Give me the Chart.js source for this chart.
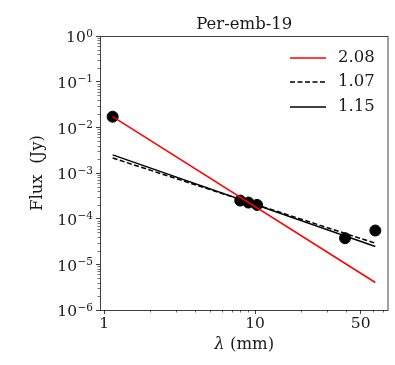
<!DOCTYPE html>
<html>
<head>
<meta charset="utf-8">
<script src="https://cdn.jsdelivr.net/npm/chart.js@4"></script>
<style>
  html, body { margin: 0; padding: 0; background: #fff; }
  #wrap { width: 395px; height: 365px; }
</style>
</head>
<body>
<div id="wrap"><canvas id="c" width="395" height="365"></canvas></div>
<script>
// observed points
const lambdaMm = [1.14, 7.97, 9.04, 10.3, 39.4, 62.5];
const fluxJy = [0.0171, 2.49e-4, 2.25e-4, 2.0e-4, 3.74e-5, 5.5e-5];

// fitted power laws (end points)
const fitLambda = [1.14, 62.5];
const fitRed = [0.0171, 4.0e-6];
const fitDashed = [2.13e-3, 2.9e-5];
const fitSolid = [2.49e-3, 2.45e-5];
const fitLabels = ['2.08', '1.07', '1.15'];

const xMajor = [1, 10, 50];
const xMinor = [2, 3, 4, 5, 6, 7, 8, 9, 20, 30, 40, 60, 70];
const yMajor = [1e-6, 1e-5, 1e-4, 1e-3, 1e-2, 1e-1, 1];
const yExp = ['−6', '−5', '−4', '−3', '−2', '−1', '0'];

const SERIF = '"DejaVu Serif", serif';
const TXT = '#1a1a1a';

function pts(xs, ys) {
  return xs.map((x, i) => ({ x: x, y: ys[i] }));
}

// frame, minor ticks, y labels, legend, title and x title
const extras = {
  id: 'extras',
  afterDraw(chart) {
    const ctx = chart.ctx;
    const a = chart.chartArea;
    const xs = chart.scales.x, ys = chart.scales.y;
    ctx.save();
    ctx.strokeStyle = 'rgba(0,0,0,0.75)';
    ctx.lineWidth = 1;
    ctx.strokeRect(a.left + 0.5, a.top + 0.5, a.right - a.left - 1, a.bottom - a.top);

    ctx.strokeStyle = 'rgba(0,0,0,0.55)';
    ctx.beginPath();
    xMinor.forEach(v => {
      const px = Math.round(xs.getPixelForValue(v)) + 0.5;
      ctx.moveTo(px, a.bottom);
      ctx.lineTo(px, a.bottom + 2.5);
    });
    for (let d = -6; d < 0; d++) {
      for (let m = 2; m <= 9; m++) {
        const py = Math.round(ys.getPixelForValue(m * Math.pow(10, d))) + 0.5;
        ctx.moveTo(a.left, py);
        ctx.lineTo(a.left - 2.5, py);
      }
    }
    ctx.stroke();

    // y tick labels: 10 with raised exponent
    ctx.fillStyle = TXT;
    ctx.textAlign = 'right';
    ctx.textBaseline = 'alphabetic';
    yMajor.forEach((v, i) => {
      const py = ys.getPixelForValue(v);
      ctx.font = '10.5px ' + SERIF;
      const we = ctx.measureText(yExp[i]).width;
      ctx.fillText(yExp[i], 93, py + 0.5);
      ctx.font = '15.5px ' + SERIF;
      ctx.fillText('10', 93 - we - 0.5, py + 6.3);
    });

    // title over plot area
    ctx.textAlign = 'center';
    ctx.textBaseline = 'middle';
    ctx.font = '16.5px ' + SERIF;
    ctx.fillText('Per-emb-19', (a.left + a.right) / 2, 25);

    // legend
    const ds = chart.data.datasets;
    const rows = [58, 82, 107];
    ctx.font = '16.5px ' + SERIF;
    ctx.textAlign = 'left';
    for (let i = 0; i < 3; i++) {
      const d = ds[i];
      ctx.strokeStyle = d.borderColor;
      ctx.lineWidth = d.borderWidth;
      ctx.setLineDash(d.borderDash || []);
      ctx.beginPath();
      ctx.moveTo(290, rows[i]);
      ctx.lineTo(326, rows[i]);
      ctx.stroke();
      ctx.setLineDash([]);
      ctx.fillStyle = TXT;
      ctx.fillText(d.label, 338, rows[i]);
    }

    // x axis title with italic lambda
    const cx = (a.left + a.right) / 2;
    ctx.font = 'italic 16.5px ' + SERIF;
    const w1 = ctx.measureText('λ').width;
    ctx.font = '16.5px ' + SERIF;
    const w2 = ctx.measureText(' (mm)').width;
    const x0 = cx - (w1 + w2) / 2;
    ctx.font = 'italic 16.5px ' + SERIF;
    ctx.fillText('λ', x0, 345);
    ctx.font = '16.5px ' + SERIF;
    ctx.fillText(' (mm)', x0 + w1, 345);
    ctx.restore();
  }
};

new Chart(document.getElementById('c').getContext('2d'), {
  type: 'scatter',
  data: {
    datasets: [
      {
        label: fitLabels[0],
        type: 'line',
        data: pts(fitLambda, fitRed),
        borderColor: '#ff0000',
        borderWidth: 1.5,
        pointRadius: 0,
        fill: false,
      },
      {
        label: fitLabels[1],
        type: 'line',
        data: pts(fitLambda, fitDashed),
        borderColor: '#000000',
        borderWidth: 1.5,
        borderDash: [5, 2.5],
        pointRadius: 0,
        fill: false,
      },
      {
        label: fitLabels[2],
        type: 'line',
        data: pts(fitLambda, fitSolid),
        borderColor: '#000000',
        borderWidth: 1.5,
        pointRadius: 0,
        fill: false,
      },
      {
        label: 'data',
        data: pts(lambdaMm, fluxJy),
        backgroundColor: '#000000',
        borderColor: '#000000',
        pointRadius: 5.5,
        pointHoverRadius: 5.5,
      },
    ],
  },
  options: {
    responsive: false,
    animation: false,
    layout: { padding: { right: 3, left: 0, top: 36, bottom: 0 } },
    plugins: {
      legend: { display: false },
      tooltip: { enabled: false },
      title: { display: false },
    },
    scales: {
      x: {
        type: 'logarithmic',
        min: 0.94,
        max: 76.4,
        border: { display: false },
        grid: { drawOnChartArea: false, tickLength: 4, color: 'rgba(0,0,0,0.75)' },
        ticks: {
          autoSkip: false,
          maxRotation: 0,
          padding: 1,
          color: TXT,
          font: { family: SERIF, size: 15.5 },
          callback: v => String(v),
        },
        afterBuildTicks: s => { s.ticks = xMajor.map(v => ({ value: v })); },
        afterFit: s => { s.height = 55; },
      },
      y: {
        type: 'logarithmic',
        min: 1e-6,
        max: 1,
        border: { display: false },
        grid: { drawOnChartArea: false, tickLength: 4, color: 'rgba(0,0,0,0.75)' },
        title: {
          display: true,
          text: 'Flux  (Jy)',
          color: TXT,
          font: { family: SERIF, size: 16.5 },
          padding: { top: 28, bottom: 0 },
        },
        ticks: { display: false },
        afterBuildTicks: s => { s.ticks = yMajor.map(v => ({ value: v })); },
        afterFit: s => { s.width = 100; },
      },
    },
  },
  plugins: [extras],
});
</script>
</body>
</html>
